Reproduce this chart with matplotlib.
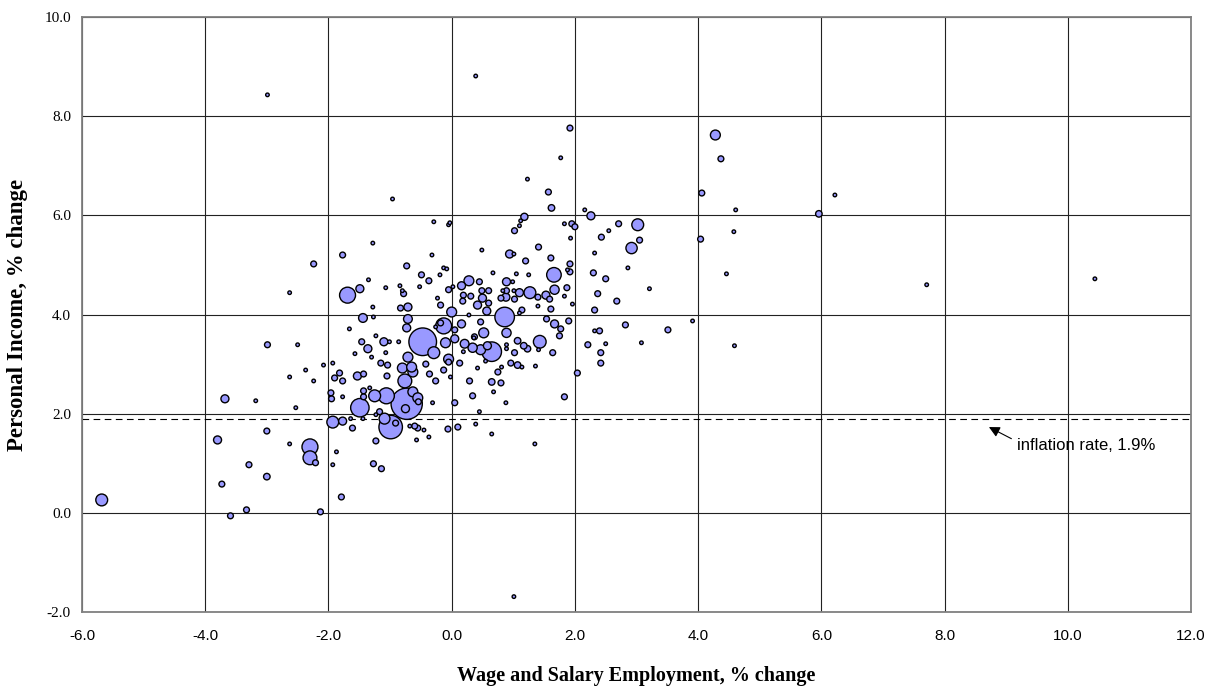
import numpy as np
import matplotlib
matplotlib.use("Agg")
import matplotlib.pyplot as plt
from matplotlib.ticker import FormatStrFormatter

# wage & salary employment change (%), personal income change (%), bubble weight
emp_change = [
    -5.68, -2.99, 0.39, 1.92, 4.28, 4.37, 1.77, 1.23, 1.57, 1.62,
    -0.96, 4.06, 6.22, 4.61, 5.96, 4.04, 4.58, 3.02, 2.92, 2.71,
    2.55, 2.43, 3.05, 2.86, 2.50, 3.21, 2.68, 4.46, 3.91, 2.82,
    3.51, 3.08, 2.50, 4.59, 2.42, 7.71, 10.44, 1.01, 1.35, 0.65,
    0.39, 0.45, 0.88, 1.83, 0.34, 0.68, 0.65, 0.80, 0.75, 0.81,
    0.42, 0.96, 1.07, 1.14, 1.36, 2.04, 2.42, 2.32, 2.40, 2.21,
    1.64, 1.43, 1.23, 1.17, 1.07, 1.02, 0.89, 0.89, 1.41, 1.75,
    0.89, 0.65, 0.58, 0.47, 0.34, 0.52, 0.36, 0.55, 1.02, 1.10,
    1.12, 1.83, 1.95, 2.00, 1.93, 0.49, 1.41, 0.94, 1.01, 2.32,
    1.61, 1.20, 1.92, 1.66, 1.88, 1.92, 2.30, 0.67, 1.05, 1.25,
    0.45, 0.89, 0.99, 1.67, 1.87, 1.27, 1.53, 1.59, 1.10, 0.89,
    0.83, 1.01, 0.49, 0.60, 0.50, 0.80, 0.88, 1.02, 1.40, 1.83,
    2.37, 0.60, 0.42, 1.96, 1.40, 1.61, 0.57, 1.14, 1.10, 2.32,
    0.86, 0.47, 1.54, 1.90, 1.67, 1.77, -0.29, -0.05, -0.03, -1.28,
    -1.77, -2.24, -0.32, -0.73, -0.13, -0.08, -0.49, -0.19, -0.37, -1.35,
    0.28, 0.16, 0.02, -0.05, -1.49, -1.69, -0.84, -1.07, -0.52, -0.80,
    -0.78, -0.23, 0.19, 0.31, 0.18, -0.18, -1.28, -0.71, -0.83, 0.00,
    -1.44, -1.27, -0.71, -0.13, -0.18, 0.16, -0.73, -1.66, -0.26, 0.05,
    0.28, -0.47, -1.46, -1.36, -1.23, -1.10, -1.01, -0.86, -0.10, 0.05,
    0.21, 0.37, 0.19, -1.57, -1.30, -1.07, -0.71, -0.29, -0.05, -0.05,
    0.13, -0.42, -1.15, -1.04, -2.08, -1.93, -0.80, -0.65, -0.63, -2.37,
    -1.82, -1.90, -1.77, -1.53, -1.43, -1.05, -0.36, -0.13, -2.24, -0.76,
    -0.26, -0.02, 0.29, -0.63, -1.43, -1.33, -1.96, -1.95, -1.77, -1.43,
    -1.25, -1.06, -0.73, -0.55, -0.54, -0.75, -0.31, 0.05, -1.49, -1.17,
    -1.23, -1.09, -0.99, -0.91, -1.93, -1.77, -1.64, -1.44, -1.61, -0.68,
    -0.60, -0.55, -0.45, -0.37, -0.57, -0.06, 0.10, -1.23, -2.30, -2.30,
    -2.21, -1.87, -1.93, -1.27, -1.14, -1.79, -2.13, -2.99, -2.50, -2.63,
    -3.68, -3.18, -2.53, -3.00, -3.80, -2.63, -3.29, -3.00, -3.73, -3.33,
    -3.59, -2.63, 1.18, 2.16, 2.26,
]
income_change = [
    0.26, 8.43, 8.81, 7.76, 7.62, 7.14, 7.16, 6.73, 6.47, 6.15,
    6.33, 6.45, 6.41, 6.11, 6.03, 5.52, 5.67, 5.81, 5.34, 5.83,
    5.69, 5.56, 5.50, 4.94, 4.72, 4.52, 4.27, 4.82, 3.87, 3.79,
    3.69, 3.43, 3.41, 3.37, 3.23, 4.60, 4.72, -1.69, 1.39, 1.59,
    1.79, 2.04, 2.22, 2.34, 2.36, 2.44, 2.64, 2.62, 2.84, 2.94,
    2.92, 3.02, 2.98, 2.94, 2.96, 2.82, 3.02, 3.67, 3.67, 3.39,
    3.23, 3.45, 3.31, 3.37, 3.47, 3.23, 3.31, 3.39, 3.29, 3.57,
    3.63, 3.25, 3.37, 3.29, 3.33, 3.63, 3.53, 3.06, 5.69, 5.79,
    5.89, 5.83, 5.83, 5.77, 5.54, 5.30, 5.36, 5.22, 5.22, 5.24,
    5.14, 5.08, 5.02, 4.80, 4.90, 4.86, 4.84, 4.84, 4.82, 4.80,
    4.66, 4.66, 4.66, 4.50, 4.54, 4.44, 4.39, 4.31, 4.44, 4.48,
    4.48, 4.48, 4.48, 4.48, 4.33, 4.33, 4.35, 4.31, 4.35, 4.37,
    4.42, 4.23, 4.19, 4.21, 4.17, 4.11, 4.07, 4.09, 4.03, 4.09,
    3.95, 3.85, 3.91, 3.87, 3.81, 3.71, 5.87, 5.81, 5.85, 5.44,
    5.20, 5.02, 5.20, 4.98, 4.94, 4.92, 4.80, 4.80, 4.68, 4.70,
    4.68, 4.58, 4.56, 4.50, 4.52, 4.39, 4.58, 4.54, 4.56, 4.48,
    4.42, 4.33, 4.39, 4.37, 4.27, 4.19, 4.15, 4.15, 4.13, 4.05,
    3.93, 3.95, 3.91, 3.77, 3.83, 3.81, 3.73, 3.71, 3.75, 3.69,
    3.99, 3.45, 3.45, 3.31, 3.57, 3.45, 3.45, 3.45, 3.43, 3.51,
    3.41, 3.55, 3.25, 3.21, 3.14, 3.23, 3.14, 3.23, 3.10, 3.04,
    3.02, 3.00, 3.02, 2.98, 2.98, 3.02, 2.92, 2.94, 2.84, 2.88,
    2.82, 2.72, 2.66, 2.76, 2.80, 2.76, 2.80, 2.88, 2.66, 2.66,
    2.66, 2.74, 2.66, 2.44, 2.46, 2.52, 2.42, 2.30, 2.34, 2.34,
    2.36, 2.36, 2.20, 2.32, 2.24, 2.10, 2.22, 2.22, 2.12, 2.04,
    1.98, 1.90, 1.73, 1.81, 1.83, 1.85, 1.90, 1.90, 1.71, 1.75,
    1.75, 1.71, 1.67, 1.53, 1.47, 1.69, 1.73, 1.45, 1.33, 1.11,
    1.01, 1.23, 0.97, 0.99, 0.89, 0.32, 0.02, 3.39, 3.39, 2.74,
    2.30, 2.26, 2.12, 1.65, 1.47, 1.39, 0.97, 0.73, 0.58, 0.06,
    -0.06, 4.44, 5.97, 6.11, 5.99,
]
bubble = [
    3.3, 0.3, 0.3, 0.8, 2.3, 0.8, 0.3, 0.3, 0.8, 1.0,
    0.3, 0.8, 0.3, 0.3, 1.0, 0.8, 0.3, 3.3, 3.0, 0.8,
    0.3, 0.8, 0.8, 0.3, 0.8, 0.3, 0.8, 0.3, 0.3, 0.8,
    0.8, 0.3, 0.3, 0.3, 0.8, 0.3, 0.3, 0.3, 0.3, 0.3,
    0.3, 0.3, 0.3, 0.8, 0.8, 0.3, 1.0, 0.8, 0.8, 0.3,
    0.3, 0.8, 1.0, 0.3, 0.3, 0.8, 0.8, 0.3, 0.8, 0.8,
    0.8, 3.8, 1.0, 1.0, 1.0, 0.8, 0.3, 0.3, 0.3, 0.8,
    2.0, 9.0, 1.5, 2.3, 2.0, 2.3, 0.3, 0.3, 0.8, 0.3,
    0.3, 0.3, 0.8, 0.8, 0.3, 0.3, 0.8, 1.5, 0.3, 0.3,
    0.8, 0.8, 0.8, 5.0, 0.3, 0.8, 0.8, 0.3, 0.3, 0.3,
    0.8, 1.5, 0.3, 2.0, 0.8, 3.3, 1.5, 0.8, 1.5, 0.8,
    0.3, 0.3, 0.8, 0.8, 1.5, 0.8, 1.5, 0.8, 0.8, 0.3,
    0.8, 0.8, 1.5, 0.3, 0.3, 0.8, 1.5, 0.8, 0.3, 0.8,
    9.0, 0.8, 0.8, 0.8, 1.5, 0.8, 0.3, 0.3, 0.3, 0.3,
    0.8, 0.8, 0.3, 0.8, 0.3, 0.3, 0.8, 0.3, 0.8, 0.3,
    2.3, 1.5, 0.3, 0.8, 1.5, 6.0, 0.3, 0.3, 0.3, 0.3,
    0.8, 0.3, 0.8, 0.8, 0.8, 0.8, 0.3, 1.5, 0.8, 2.3,
    1.8, 0.3, 1.8, 6.0, 0.8, 1.5, 1.5, 0.3, 0.3, 0.8,
    0.3, 18.0, 0.8, 1.5, 0.3, 1.5, 0.3, 0.3, 2.3, 1.5,
    1.8, 0.8, 0.3, 0.3, 0.3, 0.3, 2.3, 3.3, 2.3, 0.8,
    0.8, 0.8, 0.8, 0.8, 0.3, 0.3, 2.3, 2.3, 2.3, 0.3,
    0.8, 0.8, 0.8, 1.5, 0.8, 0.8, 0.8, 0.8, 0.3, 4.5,
    0.8, 0.3, 0.8, 2.3, 0.8, 0.3, 0.8, 0.8, 0.3, 0.8,
    3.3, 6.0, 23.0, 2.3, 0.8, 1.5, 0.3, 0.8, 8.0, 0.8,
    0.3, 2.8, 13.0, 0.8, 3.3, 1.5, 0.3, 0.3, 0.8, 0.3,
    0.8, 0.8, 0.3, 0.3, 0.3, 0.8, 0.8, 0.8, 6.0, 4.5,
    0.8, 0.3, 0.3, 0.8, 0.8, 0.8, 0.8, 0.8, 0.3, 0.3,
    1.5, 0.3, 0.3, 0.8, 1.5, 0.3, 0.8, 1.0, 0.8, 0.8,
    0.8, 0.3, 1.2, 0.3, 1.5,
]

inflation = 1.9
x_ticks = np.arange(-6, 12.1, 2)
y_ticks = np.arange(-2, 10.1, 2)

x = np.array(emp_change)
y = np.array(income_change)
w = np.array(bubble)
order = np.argsort(-w)  # big bubbles first so small ones sit on top

fig = plt.figure(figsize=(12.19, 6.86), dpi=100)
ax = fig.add_axes([82 / 1219, 1 - 612 / 686, 1109 / 1219, 595 / 686])

ax.scatter(x[order], y[order], s=22 * w[order], facecolor="#9999ff",
           edgecolor="black", linewidths=1.0, zorder=3)

ax.axhline(inflation, color="black", lw=0.8, dashes=(6, 4), zorder=2)
ax.annotate("inflation rate, 1.9%", xy=(8.72, 1.73), xytext=(9.17, 1.35),
            fontsize=12, family="Liberation Sans", va="center", ha="left",
            arrowprops=dict(arrowstyle="-|>", color="black", lw=0.8,
                            mutation_scale=16, shrinkA=2, shrinkB=0,
                            relpos=(0, 0.8)))

ax.set_xlim(-6, 12)
ax.set_ylim(-2, 10)
ax.set_xticks(x_ticks)
ax.set_yticks(y_ticks)
ax.xaxis.set_major_formatter(FormatStrFormatter("%.1f"))
ax.yaxis.set_major_formatter(FormatStrFormatter("%.1f"))
ax.grid(True, color="#222222", lw=0.8, zorder=1)
ax.set_axisbelow(True)
ax.tick_params(length=0)
ax.tick_params(axis="x", pad=12)
ax.tick_params(axis="y", pad=8)
for lab in ax.get_xticklabels():
    lab.set_fontfamily("Liberation Sans")
    lab.set_fontsize(11)
for lab in ax.get_yticklabels():
    lab.set_fontfamily("Liberation Serif")
    lab.set_fontsize(11)
for sp in ax.spines.values():
    sp.set_color("#808080")
    sp.set_linewidth(1.3)

ax.set_xlabel("Wage and Salary Employment, % change", family="Liberation Serif",
              fontweight="bold", fontsize=14.5, labelpad=17)
ax.set_ylabel("Personal Income, % change", family="Liberation Serif",
              fontweight="bold", fontsize=16.5, labelpad=12)

fig.savefig("out.png", dpi=100)
